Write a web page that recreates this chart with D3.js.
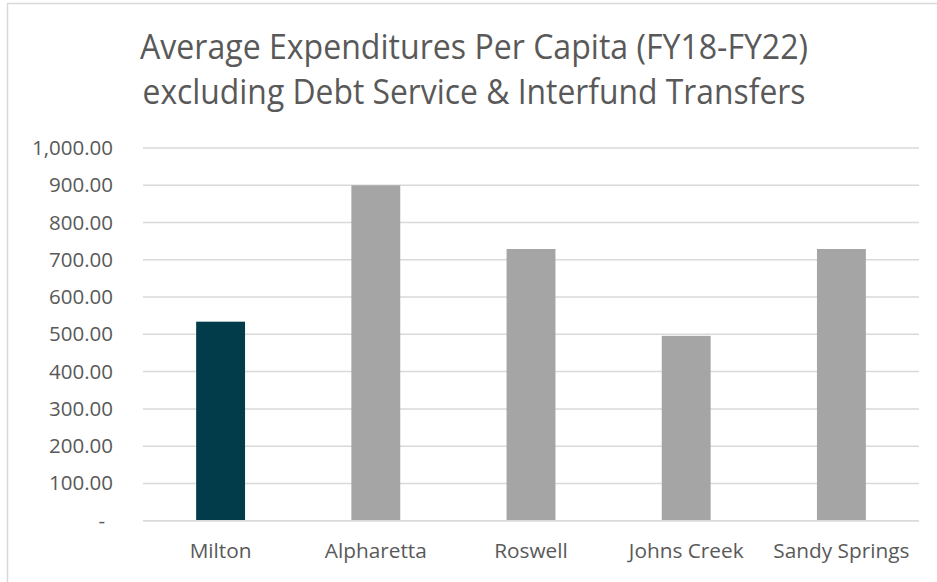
<!DOCTYPE html>
<html>
<head>
<meta charset="utf-8">
<script src="https://cdn.jsdelivr.net/npm/d3@7"></script>
<style>
  html, body { margin: 0; padding: 0; background: #ffffff; }
  svg { display: block; }
  text { font-family: "Open Sans", "Noto Sans", sans-serif; fill: #595959; }
</style>
</head>
<body>
<svg id="chart" width="937" height="582"></svg>
<script>
// Average per-capita expenditures by city
const cities = ["Milton", "Alpharetta", "Roswell", "Johns Creek", "Sandy Springs"];
const perCapita = [534, 900, 729, 496, 729];
const yTicks = [0, 100, 200, 300, 400, 500, 600, 700, 800, 900, 1000];
const titleLines = [
  "Average Expenditures Per Capita (FY18-FY22)",
  "excluding Debt Service & Interfund Transfers"
];

const W = 937, H = 582;
const margin = { top: 148, right: 18, bottom: 61.3, left: 143 };
const svg = d3.select("#chart");

// chart frame
svg.append("rect")
  .attr("x", 7.5).attr("y", 3.5)
  .attr("width", W + 10).attr("height", H - 2.5)
  .attr("fill", "#ffffff")
  .attr("stroke", "#d9d9d9").attr("stroke-width", 1.5);

const x = d3.scaleBand()
  .domain(cities)
  .range([margin.left, W - margin.right])
  .paddingInner(0.685)
  .paddingOuter(0.3425);

const y = d3.scaleLinear()
  .domain([0, 1000])
  .range([H - margin.bottom, margin.top]);

const fmt = d3.format(",.2f");

// horizontal gridlines
svg.append("g")
  .selectAll("line")
  .data(yTicks)
  .join("line")
  .attr("x1", margin.left).attr("x2", W - margin.right)
  .attr("y1", d => y(d)).attr("y2", d => y(d))
  .attr("stroke", "#d9d9d9").attr("stroke-width", 1.5);

// y axis labels
const yAxis = svg.append("g")
  .attr("transform", `translate(${margin.left},0)`)
  .call(d3.axisLeft(y).tickValues(yTicks).tickSize(0).tickPadding(30)
    .tickFormat(d => d === 0 ? "-" : fmt(d)));
yAxis.select(".domain").remove();
yAxis.selectAll("text")
  .style("font-size", "20.5px")
  .attr("fill", "#595959")
  .attr("dx", d => d === 0 ? -8 : 0);

// bars
svg.append("g")
  .selectAll("rect")
  .data(cities.map((c, i) => ({ city: c, value: perCapita[i] })))
  .join("rect")
  .attr("x", d => x(d.city))
  .attr("width", x.bandwidth())
  .attr("y", d => y(d.value))
  .attr("height", d => y(0) - y(d.value))
  .attr("fill", d => d.city === "Milton" ? "#023b4a" : "#a5a5a5");

// baseline
svg.append("line")
  .attr("x1", margin.left).attr("x2", W - margin.right)
  .attr("y1", y(0)).attr("y2", y(0))
  .attr("stroke", "#d9d9d9").attr("stroke-width", 1.5);

// category labels
const xAxis = svg.append("g")
  .attr("transform", `translate(0,${y(0)})`)
  .call(d3.axisBottom(x).tickSize(0).tickPadding(23));
xAxis.select(".domain").remove();
xAxis.selectAll("text")
  .style("font-size", "20.8px")
  .attr("fill", "#595959");

// two-line title, condensed to its line widths
const titleWidths = [668, 663];
svg.append("g")
  .selectAll("text")
  .data(titleLines)
  .join("text")
  .attr("x", 474)
  .attr("y", (d, i) => 59 + i * 45)
  .attr("text-anchor", "middle")
  .attr("textLength", (d, i) => titleWidths[i])
  .attr("lengthAdjust", "spacingAndGlyphs")
  .style("font-size", "34px")
  .attr("fill", "#595959")
  .text(d => d);
</script>
</body>
</html>
